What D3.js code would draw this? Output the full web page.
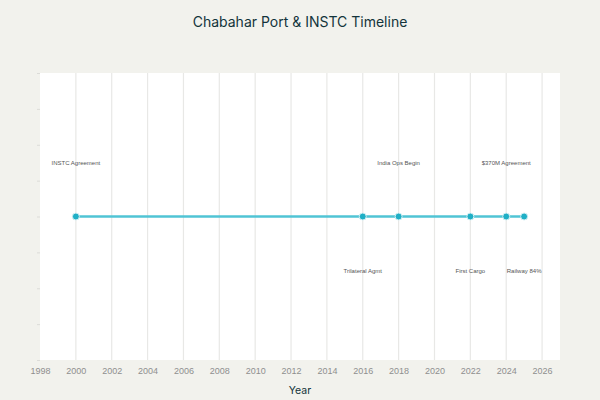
<!DOCTYPE html>
<html>
<head>
<meta charset="utf-8">
<script src="https://cdn.jsdelivr.net/npm/d3@7"></script>
<style>
  html, body { margin:0; padding:0; background:#f2f2ed; }
  svg { display:block; font-family: "Liberation Sans", Arial, sans-serif; }
</style>
</head>
<body>
<svg id="chart" width="600" height="400"></svg>
<script>
const years  = [2000, 2016, 2018, 2022, 2024, 2025];
const events = ['INSTC Agreement', 'Trilateral Agmt', 'India Ops Begin', 'First Cargo', '$370M Agreement', 'Railway 84%'];
const sides  = [1, -1, 1, -1, 1, -1];   // label above (1) or below (-1)
const xTicks = [1998, 2000, 2002, 2004, 2006, 2008, 2010, 2012, 2014, 2016, 2018, 2020, 2022, 2024, 2026];
const yTicks = [-4, -3, -2, -1, 0, 1, 2, 3, 4];

const data = years.map((y, i) => ({ year: y, label: events[i], side: sides[i] }));

const svg = d3.select('#chart');
const margin = { top:73, right:40, bottom:40, left:40 };
const w = 600 - margin.left - margin.right;
const h = 287;

const x = d3.scaleLinear().domain([1998, 2027]).range([0, w]);
const y = d3.scaleLinear().domain([-4, 4]).range([h, 0]);

svg.append('text')
  .attr('x', 300).attr('y', 27)
  .attr('text-anchor', 'middle')
  .attr('font-family', 'Inter, sans-serif')
  .attr('font-size', 14).attr('font-weight', 400)
  .attr('fill', '#13343b')
  .text('Chabahar Port & INSTC Timeline');

const g = svg.append('g').attr('transform', `translate(${margin.left},${margin.top})`);

g.append('rect').attr('width', w).attr('height', h).attr('fill', '#fff');

// vertical grid
g.append('g').selectAll('line').data(xTicks.slice(1)).join('line')
  .attr('x1', d => x(d)).attr('x2', d => x(d))
  .attr('y1', 0).attr('y2', h)
  .attr('stroke', '#e8e8e6').attr('stroke-width', 1.2);

// x axis
const xa = g.append('g').attr('transform', `translate(0,${h})`)
  .call(d3.axisBottom(x).tickValues(xTicks).tickFormat(d3.format('d')).tickSize(0).tickPadding(8));
xa.select('.domain').remove();
xa.selectAll('text').attr('font-size', 9).attr('fill', '#8f8f8f')
  .attr('font-family', '"Liberation Sans", Arial, sans-serif');

// y axis (ticks only)
const ya = g.append('g')
  .call(d3.axisLeft(y).tickValues(yTicks).tickFormat('').tickSize(3));
ya.select('.domain').remove();
ya.selectAll('line').attr('stroke', '#dcdcd8');

svg.append('text')
  .attr('x', 300).attr('y', 394)
  .attr('text-anchor', 'middle')
  .attr('font-family', 'Inter, sans-serif')
  .attr('font-size', 10.5).attr('font-weight', 400).attr('fill', '#13343b')
  .text('Year');

// timeline
g.append('path').datum(data)
  .attr('d', d3.line().x(d => x(d.year)).y(() => y(0)))
  .attr('fill', 'none').attr('stroke', '#50c4d5').attr('stroke-width', 2.5);

g.selectAll('circle').data(data).join('circle')
  .attr('cx', d => x(d.year)).attr('cy', y(0)).attr('r', 3.5)
  .attr('fill', '#1fafc6').attr('stroke', '#d6f0f4').attr('stroke-width', 1);

g.selectAll('.evt').data(data).join('text')
  .attr('class', 'evt')
  .attr('x', d => x(d.year))
  .attr('y', d => y(d.side * 1.5) + 2.2)
  .attr('text-anchor', 'middle')
  .attr('font-size', 6).attr('fill', '#555')
  .text(d => d.label);
</script>
</body>
</html>
